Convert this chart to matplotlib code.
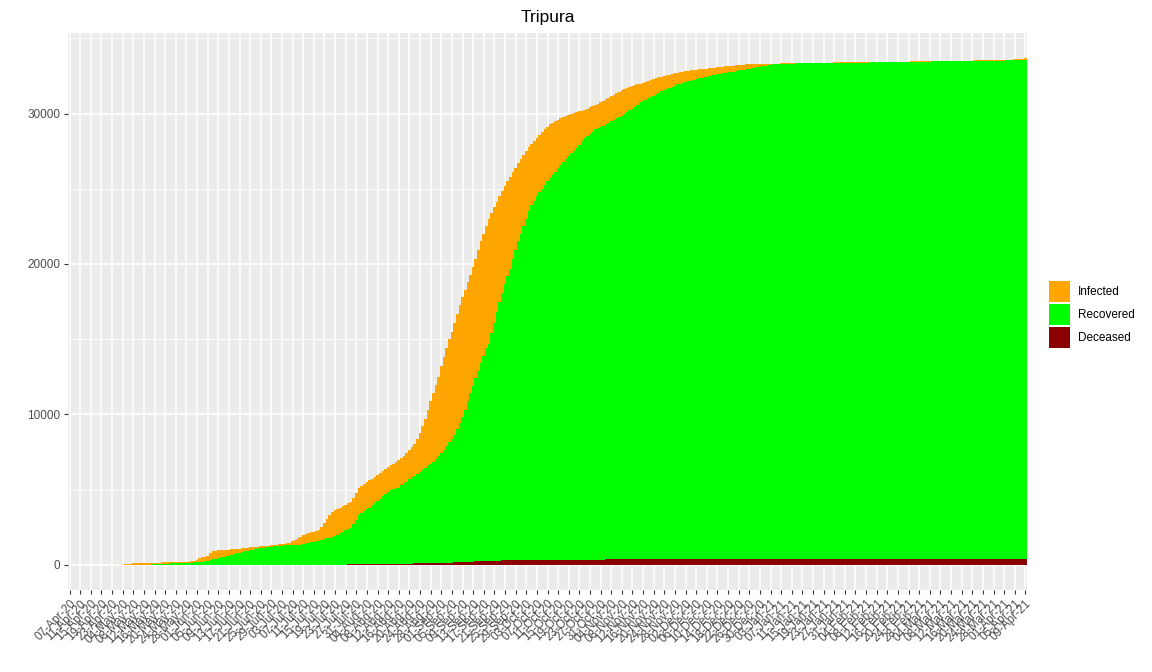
import matplotlib
matplotlib.use("Agg")
import matplotlib.pyplot as plt
from matplotlib.patches import Patch
import numpy as np
import pandas as pd

# ---------------- data ----------------
title = "Tripura"
series_names = ["Infected", "Recovered", "Deceased"]
series_colors = ["#FFA500", "#00FF00", "#8B0000"]

start_date = "2020-04-07"
end_date = "2021-04-09"
missing_dates = ["2020-04-24", "2020-04-26", "2020-04-27", "2020-04-29",
                 "2020-04-30", "2020-05-02", "2020-05-03"]
tick_every = 4

# cumulative confirmed cases (top of stack)
confirmed = [
    2, 2, 2, 2, 2, 2, 2, 2, 2, 2,
    2, 2, 2, 2, 2, 2, 2, 2, 2, 2, 2,
    60, 62, 64, 90, 95, 100, 110, 115, 120, 125,
    130, 135, 140, 145, 150, 155, 165, 175, 180, 190,
    195, 198, 200, 205, 210, 230, 270, 330, 420, 480,
    540, 600, 750, 880, 920, 950, 970, 985, 995, 1000,
    1010, 1030, 1050, 1070, 1090, 1110, 1130, 1150, 1170, 1185,
    1200, 1215, 1230, 1250, 1270, 1290, 1310, 1330, 1350, 1380,
    1400, 1430, 1460, 1550, 1650, 1750, 1870, 1950, 2030, 2100,
    2150, 2200, 2270, 2330, 2500, 2750, 3050, 3330, 3500, 3650,
    3720, 3800, 3900, 4000, 4100, 4200, 4450, 4800, 5070, 5250,
    5380, 5500, 5600, 5720, 5850, 5980, 6100, 6230, 6350, 6480,
    6600, 6720, 6850, 6950, 7070, 7230, 7400, 7600, 7800, 8050,
    8350, 8730, 9200, 9700, 10300, 10870, 11400, 11950, 12500, 13200,
    13800, 14400, 15000, 15500, 16100, 16700, 17300, 17800, 18300, 18800,
    19300, 19800, 20300, 20900, 21500, 22000, 22500, 23000, 23400, 23800,
    24150, 24500, 24850, 25200, 25500, 25800, 26100, 26400, 26700, 27000,
    27250, 27500, 27750, 28000, 28200, 28400, 28600, 28800, 28950, 29100,
    29300, 29400, 29500, 29600, 29700, 29780, 29860, 29930, 30000, 30050,
    30100, 30150, 30200, 30270, 30340, 30420, 30500, 30580, 30660, 30750,
    30850, 30950, 31050, 31150, 31250, 31350, 31450, 31550, 31630, 31700,
    31770, 31840, 31900, 31950, 32000, 32060, 32120, 32180, 32240, 32300,
    32360, 32420, 32470, 32520, 32560, 32600, 32640, 32680, 32720, 32750,
    32780, 32810, 32840, 32870, 32900, 32920, 32940, 32960, 32980, 33000,
    33020, 33040, 33060, 33080, 33100, 33120, 33140, 33160, 33180, 33200,
    33220, 33240, 33250, 33260, 33270, 33280, 33285, 33290, 33295, 33300,
    33305, 33310, 33315, 33320, 33325, 33330, 33335, 33340, 33345, 33350,
    33355, 33360, 33365, 33370, 33375, 33380, 33382, 33384, 33386, 33388,
    33390, 33392, 33394, 33396, 33398, 33400, 33400, 33402, 33404, 33406,
    33408, 33410, 33410, 33412, 33414, 33416, 33418, 33420, 33420, 33422,
    33424, 33426, 33428, 33430, 33430, 33432, 33434, 33436, 33438, 33440,
    33440, 33442, 33444, 33446, 33460, 33465, 33470, 33475, 33478, 33480,
    33482, 33484, 33486, 33488, 33490, 33492, 33494, 33496, 33498, 33500,
    33502, 33504, 33506, 33508, 33510, 33512, 33514, 33516, 33518, 33520,
    33540, 33545, 33550, 33552, 33554, 33556, 33558, 33560, 33562, 33565,
    33570, 33575, 33580, 33590, 33600, 33610, 33620, 33640, 33660, 33680,
]

# cumulative closed cases = recovered + deceased (top of the green layer)
closed = [
    0, 0, 0, 0, 0, 0, 0, 0, 0, 0,
    0, 0, 0, 0, 0, 0, 0, 0, 0, 0,
    0, 0, 0, 0, 0, 0, 0, 0, 0, 0, 0,
    40, 45, 50, 55, 60, 65, 70, 80, 90, 100,
    105, 110, 115, 120, 130, 140, 150, 170, 190, 210,
    230, 250, 300, 350, 400, 450, 500, 540, 570, 600,
    650, 700, 750, 800, 850, 900, 930, 960, 1000, 1050,
    1100, 1120, 1140, 1160, 1180, 1200, 1220, 1240, 1260, 1270,
    1280, 1290, 1300, 1310, 1320, 1330, 1340, 1380, 1420, 1460,
    1500, 1540, 1570, 1600, 1650, 1700, 1750, 1800, 1870, 1940,
    2000, 2100, 2200, 2300, 2400, 2470, 2700, 3000, 3330, 3450,
    3600, 3700, 3800, 3950, 4100, 4250, 4400, 4550, 4700, 4850,
    5000, 5040, 5080, 5130, 5270, 5400, 5530, 5670, 5800, 5920,
    6030, 6150, 6300, 6450, 6600, 6670, 6850, 7050, 7250, 7420,
    7650, 7900, 8150, 8330, 8650, 9000, 9400, 9800, 10300, 10870,
    11400, 11900, 12400, 12900, 13400, 13900, 14400, 14700, 15400, 16100,
    16800, 17500, 18100, 18700, 19200, 19700, 20300, 20900, 21500, 22000,
    22500, 23000, 23500, 23900, 24200, 24500, 24800, 25000, 25250, 25500,
    25700, 25900, 26150, 26400, 26600, 26800, 27000, 27200, 27350, 27500,
    27700, 27900, 28200, 28350, 28500, 28650, 28800, 28950, 29050, 29100,
    29200, 29300, 29400, 29500, 29600, 29700, 29800, 29870, 29980, 30100,
    30220, 30340, 30460, 30600, 30750, 30840, 30930, 31020, 31110, 31200,
    31300, 31400, 31480, 31560, 31640, 31720, 31800, 31870, 31940, 32000,
    32050, 32100, 32150, 32200, 32250, 32300, 32350, 32390, 32430, 32470,
    32510, 32550, 32590, 32620, 32650, 32680, 32710, 32740, 32770, 32800,
    32840, 32880, 32900, 32930, 32960, 32990, 33020, 33060, 33100, 33130,
    33160, 33190, 33220, 33250, 33270, 33290, 33300, 33310, 33315, 33320,
    33325, 33330, 33335, 33340, 33345, 33350, 33352, 33354, 33356, 33358,
    33360, 33362, 33364, 33366, 33368, 33370, 33372, 33374, 33376, 33378,
    33380, 33382, 33384, 33386, 33388, 33390, 33392, 33394, 33396, 33398,
    33400, 33402, 33404, 33406, 33408, 33410, 33412, 33414, 33416, 33418,
    33420, 33422, 33424, 33426, 33428, 33440, 33445, 33450, 33455, 33460,
    33462, 33464, 33466, 33468, 33470, 33472, 33474, 33476, 33478, 33480,
    33482, 33484, 33486, 33488, 33490, 33492, 33494, 33496, 33498, 33500,
    33500, 33502, 33504, 33506, 33508, 33510, 33512, 33514, 33516, 33518,
    33520, 33530, 33540, 33560, 33580, 33590, 33600, 33600, 33600, 33600,
]

# cumulative deceased
deceased = [
    0, 0, 0, 0, 0, 0, 0, 0, 0, 0,
    0, 0, 0, 0, 0, 0, 0, 0, 0, 0,
    0, 0, 0, 0, 0, 0, 0, 0, 0, 0,
    0, 0, 0, 0, 0, 0, 0, 0, 0, 0,
    0, 0, 0, 0, 0, 0, 0, 0, 0, 0,
    0, 0, 0, 0, 0, 0, 0, 0, 0, 0,
    0, 0, 0, 0, 0, 0, 0, 0, 0, 0,
    0, 0, 0, 0, 0, 0, 0, 0, 0, 0,
    0, 0, 0, 0, 0, 0, 0, 0, 0, 0,
    0, 0, 0, 0, 0, 0, 0, 0, 0, 0,
    5, 6, 8, 10, 12, 14, 16, 18, 20, 21, 22, 23, 25,
    28, 30, 32, 35, 38, 40, 43, 46, 50, 53, 56, 60,
    63, 66, 70, 73, 76, 80, 84, 88, 92, 96, 100, 105, 110,
    115, 120, 125, 130, 135, 140, 145, 150, 155, 160,
    170, 180, 190, 200, 210, 220, 228, 236, 243, 250,
    256, 262, 267, 272, 277, 282, 286, 290, 294, 298, 302, 305, 308, 311, 314,
    316, 317, 318, 319, 320, 321, 322, 323, 324, 325,
    326, 327, 328, 329, 330, 331, 332, 333, 334, 335,
    336, 337, 338, 339, 340, 341, 342, 343, 344, 345,
    346, 347, 348, 349, 350, 351, 352, 353, 354, 355,
    356, 357,
    362, 363, 364, 365, 366, 367, 368, 369, 370, 371,
    372, 372, 373, 373, 374, 374, 375, 375, 376, 376,
    377, 377, 378, 378, 379, 379, 380, 380, 380, 381,
    381, 381, 382, 382, 382, 383, 383, 383, 384, 384,
    384, 385, 385, 385, 386, 386,
    386, 386, 386, 386, 386, 386, 386, 386, 386, 386,
    386, 386, 386, 386, 386, 386, 386, 386, 386, 386,
    387, 387, 387, 387, 387, 387, 387, 387, 387, 387,
    387, 387, 387, 387, 387, 387, 387, 387, 387, 387,
    388, 388, 388, 388, 388, 388, 388, 388, 388, 388,
    388, 388, 388, 388, 388, 388, 388, 388, 388, 388,
    389, 389, 389, 389, 389, 389, 389, 389, 389, 389,
    389, 389, 389, 389, 389, 389, 389, 389, 389, 389,
    390, 390, 390, 390, 390, 390, 390, 390, 390, 390,
    391, 391, 391, 391, 391, 391, 391, 391, 391, 391,
]

y_ticks = [0, 10000, 20000, 30000]
y_minor = [5000, 15000, 25000, 35000]

# ---------------- build ----------------
all_days = pd.date_range(start_date, end_date, freq="D")
dates = all_days[~all_days.isin(pd.to_datetime(missing_dates))]
n = len(dates)
conf = np.array(confirmed, dtype=float)
clos = np.array(closed, dtype=float)
dec = np.array(deceased, dtype=float)
assert len(conf) == n and len(clos) == n and len(dec) == n, (n, len(conf), len(clos), len(dec))

infected_v = conf - clos
recovered_v = clos - dec
deceased_v = dec

plt.rcParams["font.family"] = ["Liberation Sans", "DejaVu Sans"]

W, H = 1152, 672
fig = plt.figure(figsize=(W / 100, H / 100), dpi=100)
left, right, top, bottom = 68, 1027, 33, 590
ax = fig.add_axes([left / W, 1 - bottom / H, (right - left) / W, (bottom - top) / H])
ax.set_facecolor("#EBEBEB")

x = np.arange(n)
common = dict(width=1.0, linewidth=0, antialiased=False, zorder=3)
ax.bar(x, deceased_v, color=series_colors[2], **common)
ax.bar(x, recovered_v, bottom=deceased_v, color=series_colors[1], **common)
ax.bar(x, infected_v, bottom=deceased_v + recovered_v, color=series_colors[0], **common)

ymax = float(conf.max())
ax.set_ylim(-0.05 * ymax, 1.05 * ymax)
ax.set_xlim(-0.6, n - 1 + 0.6)

ax.set_yticks(y_ticks)
ax.set_yticklabels([str(v) for v in y_ticks])
ax.set_yticks(y_minor, minor=True)
tick_pos = x[::tick_every]
ax.set_xticks(tick_pos)
ax.set_xticklabels([d.strftime("%d-%b-%y") for d in dates[::tick_every]],
                   rotation=45, ha="right", va="top", rotation_mode="anchor")

ax.grid(which="major", color="white", linewidth=1.1, zorder=0)
ax.grid(which="minor", axis="y", color="white", linewidth=0.55, zorder=0)
ax.set_axisbelow(True)
for s in ax.spines.values():
    s.set_visible(False)
ax.tick_params(axis="both", which="major", length=3, width=0.8, color="#333333",
               labelcolor="#4D4D4D", labelsize=8.5, pad=2.5)
ax.tick_params(axis="both", which="minor", length=0)

ax.set_title(title, fontsize=12.5, color="black", pad=8)

handles = [Patch(facecolor=c, edgecolor="none") for c in series_colors]
fig.legend(handles, series_names, loc="upper left",
           bbox_to_anchor=(1049 / W, 1 - 281 / H), frameon=False,
           fontsize=8.5, handlelength=1.78, handleheight=2.36,
           labelspacing=0.17, handletextpad=0.68, borderpad=0, borderaxespad=0)

fig.savefig("out.png", dpi=100)
